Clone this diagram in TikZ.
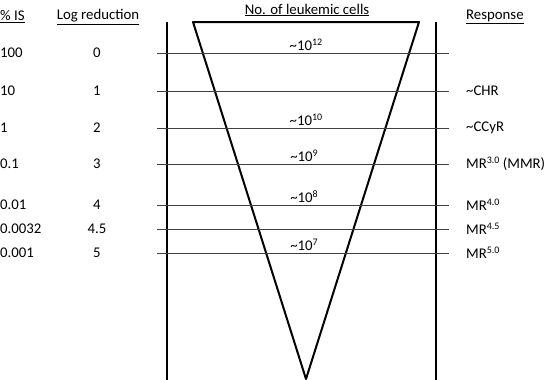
\documentclass[tikz,border=0pt]{standalone}
\usepackage{fontspec}
\setmainfont{Carlito}
\usetikzlibrary{positioning}
\newcommand{\supx}[1]{\raisebox{5.2pt}{\fontsize{10}{11}\selectfont #1}}

\begin{document}
\begin{tikzpicture}[x=1pt,y=-1pt,font=\fontsize{14.8}{17}\selectfont,
    lbl/.style={inner sep=0pt},
    level/.style={line width=0.8pt,black!75},
    axis/.style={line width=1.6pt}]
  \useasboundingbox (0,0) rectangle (552,380);

  % headings
  \node[lbl,anchor=west] (hIS) at (0,17) {\underline{\% IS}};
  \node[lbl] (hLog) at (98,17) {\underline{Log reduction}};
  \node[lbl] (hCells) at (307,10) {\underline{No. of leukemic cells}};
  \node[lbl,anchor=west] (hResp) at (466,17) {\underline{Response}};

  % frame and cone
  \coordinate (LT) at (167,22);
  \coordinate (LB) at (167,380);
  \coordinate (RT) at (436,22);
  \coordinate (RB) at (436,380);
  \draw[axis] (LT) -- (LB);
  \draw[axis] (RT) -- (RB);

  \coordinate (TA) at (193,22);
  \coordinate (TB) at (419,22);
  \coordinate (TC) at (306,379);
  \draw[line width=2pt,line join=round] (TA) -- (TB) -- (TC) -- cycle;

  % levels
  \foreach \y/\pis/\lr [count=\i] in {53/100/0, 91/10/1, 128/1/2, 164/0.1/3,
      205/0.01/4, 229/0.0032/4.5, 253/0.001/5} {
    \coordinate (a\i) at (157,\y);
    \coordinate (b\i) at (449,\y);
    \draw[level] (a\i) -- (b\i);
    \node[lbl,anchor=west] (is\i) at (0,\y) {\pis};
    \node[lbl] (lr\i) at (97,\y) {\lr};
  }

  % cell counts
  \node[lbl,anchor=south] (c1) at (306,51) {\textasciitilde10\supx{12}};
  \node[lbl,anchor=south] (c3) at (306,126) {\textasciitilde10\supx{10}};
  \node[lbl,anchor=south] (c4) at (304,162) {\textasciitilde10\supx{9}};
  \node[lbl,anchor=south] (c5) at (304,203) {\textasciitilde10\supx{8}};
  \node[lbl,anchor=south] (c7) at (304,251) {\textasciitilde10\supx{7}};

  % responses
  \node[lbl,anchor=west] (r2) at (466,91) {\textasciitilde CHR};
  \node[lbl,anchor=west] (r3) at (466,128) {\textasciitilde CCyR};
  \node[lbl,anchor=west] (r4) at (466,164) {MR\supx{3.0} (MMR)};
  \node[lbl,anchor=west] (r5) at (466,205) {MR\supx{4.0}};
  \node[lbl,anchor=west] (r6) at (466,229) {MR\supx{4.5}};
  \node[lbl,anchor=west] (r7) at (466,253) {MR\supx{5.0}};
\end{tikzpicture}
\end{document}
